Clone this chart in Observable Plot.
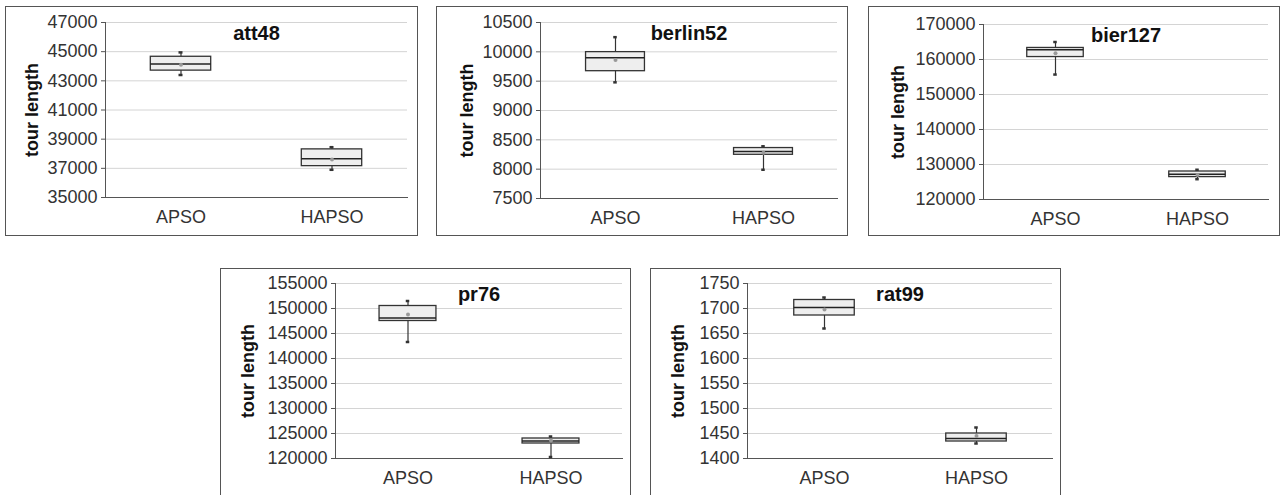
<!DOCTYPE html>
<html>
<head>
<meta charset="utf-8">
<script src="https://cdn.jsdelivr.net/npm/d3@7"></script>
<script src="https://cdn.jsdelivr.net/npm/@observablehq/plot@0.6"></script>
<style>
  html, body { margin: 0; padding: 0; background: #fff; width: 1282px; height: 495px; overflow: hidden; }
  .panel { position: absolute; box-sizing: border-box; border: 1px solid #555; background: #fff; overflow: hidden; }
  .panel svg { display: block; }
</style>
</head>
<body>
<div id="root"></div>
<script>
// ---- data ----
const datasets = ["att48", "berlin52", "bier127", "pr76", "rat99"];
const algorithms = ["APSO", "HAPSO"];
const minVals  = [[43400, 36900], [9480, 7990], [155700, 125800], [143300, 120300], [1660, 1430]];
const q1Vals   = [[43700, 37150], [9670, 8245], [160700, 126400], [147500, 123000], [1686, 1434]];
const medVals  = [[44150, 37650], [9900, 8300], [162800, 127200], [148100, 123500], [1702, 1440]];
const q3Vals   = [[44650, 38300], [9995, 8360], [163300, 128000], [150500, 124000], [1717, 1450]];
const maxVals  = [[44950, 38450], [10250, 8390], [165000, 128500], [151500, 124400], [1722, 1462]];
const meanVals = [[44100, 37600], [9860, 8280], [161800, 127000], [148800, 123600], [1698, 1445]];
const yDomains = [[35000, 47000], [7500, 10500], [120000, 170000], [120000, 155000], [1400, 1750]];
const yTicks = [
  [35000, 37000, 39000, 41000, 43000, 45000, 47000],
  [7500, 8000, 8500, 9000, 9500, 10000, 10500],
  [120000, 130000, 140000, 150000, 160000, 170000],
  [120000, 125000, 130000, 135000, 140000, 145000, 150000, 155000],
  [1400, 1450, 1500, 1550, 1600, 1650, 1700, 1750]
];
const yLabel = "tour length";

// ---- layout (panel boxes and margins) ----
const layout = [
  {left: 5,   top: 6,   w: 413, h: 230, ml: 100, mr: 11, mt: 16, mb: 39, lab: -73},
  {left: 436, top: 6,   w: 412, h: 230, ml: 104, mr: 11, mt: 16, mb: 38, lab: -73},
  {left: 868, top: 6,   w: 412, h: 230, ml: 115, mr: 12, mt: 18, mb: 37, lab: -85},
  {left: 220, top: 268, w: 411, h: 230, ml: 115, mr: 9,  mt: 15, mb: 40, lab: -87},
  {left: 650, top: 268, w: 411, h: 230, ml: 97,  mr: 9,  mt: 15, mb: 40, lab: -69}
];

const root = document.getElementById("root");
datasets.forEach((name, k) => {
  const g = layout[k];
  const rows = algorithms.map((a, j) => ({
    alg: a, min: minVals[k][j], q1: q1Vals[k][j], med: medVals[k][j],
    q3: q3Vals[k][j], max: maxVals[k][j], mean: meanVals[k][j]
  }));
  const W = g.w - 2, H = g.h - 2;
  const ml = g.ml - 1, mr = g.mr - 1, mt = g.mt - 1, mb = g.mb - 1;
  const band = (W - ml - mr) / algorithms.length;
  const ins = band * 0.3;
  const chart = Plot.plot({
    width: W, height: H,
    marginLeft: ml, marginRight: mr, marginTop: mt, marginBottom: mb,
    style: {fontFamily: "'Liberation Sans', Arial, sans-serif", fontSize: "18px", color: "#333", background: "#fff"},
    x: {domain: algorithms, padding: 0, label: null},
    y: {domain: yDomains[k], label: null},
    marks: [
      Plot.gridY(yTicks[k], {stroke: "#d4d4d4", strokeOpacity: 1}),
      Plot.axisX({tickSize: 0, tickPadding: 13, fontSize: 18}),
      Plot.axisY(yTicks[k], {tickSize: 4, tickPadding: 4, tickFormat: d3.format("d"), fontSize: 18, stroke: "#555"}),
      Plot.frame({anchor: "left", stroke: "#555"}),
      Plot.frame({anchor: "bottom", stroke: "#555"}),
      Plot.ruleX(rows, {x: "alg", y1: "min", y2: "max", stroke: "#333", strokeWidth: 1.2}),
      Plot.tickY(rows, {x: "alg", y: "min", stroke: "#333", strokeWidth: 2.5, insetLeft: band / 2 - 2, insetRight: band / 2 - 2}),
      Plot.tickY(rows, {x: "alg", y: "max", stroke: "#333", strokeWidth: 2.5, insetLeft: band / 2 - 2, insetRight: band / 2 - 2}),
      Plot.barY(rows, {x: "alg", y1: "q1", y2: "q3", fill: "#eeeeee", stroke: "#333", strokeWidth: 1.3, insetLeft: ins, insetRight: ins}),
      Plot.tickY(rows, {x: "alg", y: "med", stroke: "#222", strokeWidth: 1.5, insetLeft: ins, insetRight: ins}),
      Plot.dot(rows, {x: "alg", y: "mean", r: 2, fill: "#999", stroke: null}),
      Plot.text([name], {frameAnchor: "top", lineAnchor: "top", dy: 3, fontWeight: "bold", fontSize: 20, fill: "#111"}),
      Plot.text([yLabel], {frameAnchor: "left", textAnchor: "middle", rotate: -90, dx: g.lab, fontWeight: "bold", fontSize: 18, fill: "#111"})
    ]
  });
  const div = document.createElement("div");
  div.className = "panel";
  div.style.left = g.left + "px";
  div.style.top = g.top + "px";
  div.style.width = g.w + "px";
  div.style.height = g.h + "px";
  div.appendChild(chart);
  root.appendChild(div);
});
</script>
</body>
</html>
